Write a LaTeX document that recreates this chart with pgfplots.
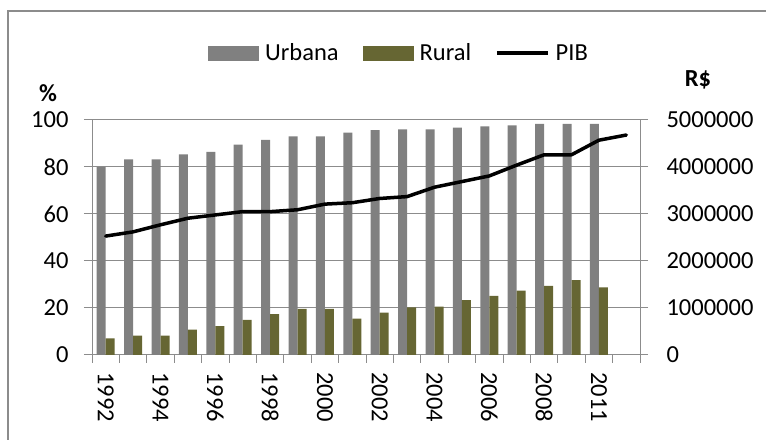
\documentclass[border=0pt]{standalone}
\usepackage{pgfplots}
\usepackage{pgfplotstable}
\pgfplotsset{compat=1.18}
\usepackage{fontspec}
\setmainfont{Carlito}
\definecolor{urb}{RGB}{128,128,128}
\definecolor{rur}{RGB}{102,102,51}
\definecolor{axg}{RGB}{140,140,140}
\newcommand\cf{\fontsize{24.5bp}{29bp}\selectfont}
\pgfplotstableread{
x urb rur pib
0 80.1 7.1 2530000
1 83.2 8.2 2620000
2 83.2 8.2 2770000
3 85.4 10.8 2910000
4 86.4 12.3 2980000
5 89.5 14.9 3050000
6 91.5 17.4 3050000
7 93.0 19.6 3090000
8 93.0 19.6 3210000
9 94.6 15.5 3240000
10 95.7 18.0 3330000
11 96.0 20.3 3370000
12 96.0 20.6 3570000
13 96.7 23.3 3690000
14 97.3 25.2 3810000
15 97.7 27.4 4040000
16 98.3 29.4 4260000
17 98.3 31.9 4260000
18 98.3 28.8 4570000
19 nan nan 4680000
}\data
\begin{document}
\begin{tikzpicture}[x=1bp,y=1bp]
\useasboundingbox (0,0) rectangle (766,440);
\draw[axg, line width=1.5bp] (8,0) -- (8,429) -- (766,429);
\begin{axis}[
  at={(92bp,85bp)}, anchor=south west, scale only axis,
  width=548bp, height=235bp,
  xmin=-0.5, xmax=19.5, ymin=0, ymax=100,
  axis x line*=bottom, axis y line*=left,
  axis line style={axg, line width=1bp},
  ytick={0,20,...,100}, ymajorgrids,
  grid style={axg, line width=1bp},
  tick align=outside, major tick length=8bp,
  tick style={axg, line width=1bp},
  xtick={-0.5,0.5,...,19.5}, xticklabels={},
  extra x ticks={0,2,...,18},
  extra x tick labels={1992,1994,1996,1998,2000,2002,2004,2006,2008,2011},
  extra x tick style={major tick length=0pt,
    tick label style={rotate=-90, anchor=west, xshift=14bp}},
  tick label style={font=\cf, text=black},
  yticklabel style={xshift=-12bp},
  /pgf/number format/assume math mode=true,
  ybar=0pt, bar width=9bp,
  legend style={at={(0.2117,1.285)}, anchor=west, draw=none, fill=none,
    inner sep=0pt, font=\cf, legend columns=3,
    /tikz/every odd column/.style={column sep=4bp},
    /tikz/every even column/.style={column sep=22bp}},
  legend cell align=left,
]
\addplot[fill=urb, draw=none,
  legend image code/.code={\fill[urb] (0bp,-7.5bp) rectangle (51bp,7.5bp);}]
  table[x=x, y=urb] {\data};
\addlegendentry{Urbana}
\addplot[fill=rur, draw=none,
  legend image code/.code={\fill[rur] (0bp,-7.5bp) rectangle (51bp,7.5bp);}]
  table[x=x, y=rur] {\data};
\addlegendentry{Rural}
\addlegendimage{legend image code/.code={\draw[black, line width=3.5bp] (0bp,0bp) -- (51bp,0bp);}}
\addlegendentry{PIB}
\end{axis}
\begin{axis}[
  at={(92bp,85bp)}, anchor=south west, scale only axis,
  width=548bp, height=235bp,
  xmin=-0.5, xmax=19.5, ymin=0, ymax=5000000,
  axis x line=none, axis y line*=right,
  axis line style={axg, line width=1bp},
  ytick={0,1000000,...,5000000}, scaled y ticks=false,
  yticklabel style={/pgf/number format/fixed, /pgf/number format/1000 sep={}, xshift=15bp},
  tick align=outside, major tick length=8bp,
  tick style={axg, line width=1bp},
  tick label style={font=\cf, text=black},
  /pgf/number format/assume math mode=true,
]
\addplot[black, line width=3.5bp, line join=round, line cap=round, mark=none]
  table[x=x, y=pib] {\data};
\end{axis}
\node[font=\cf\bfseries] at (48,347) {\%};
\node[font=\cf\bfseries] at (698,360) {R\$};
\end{tikzpicture}
\end{document}
